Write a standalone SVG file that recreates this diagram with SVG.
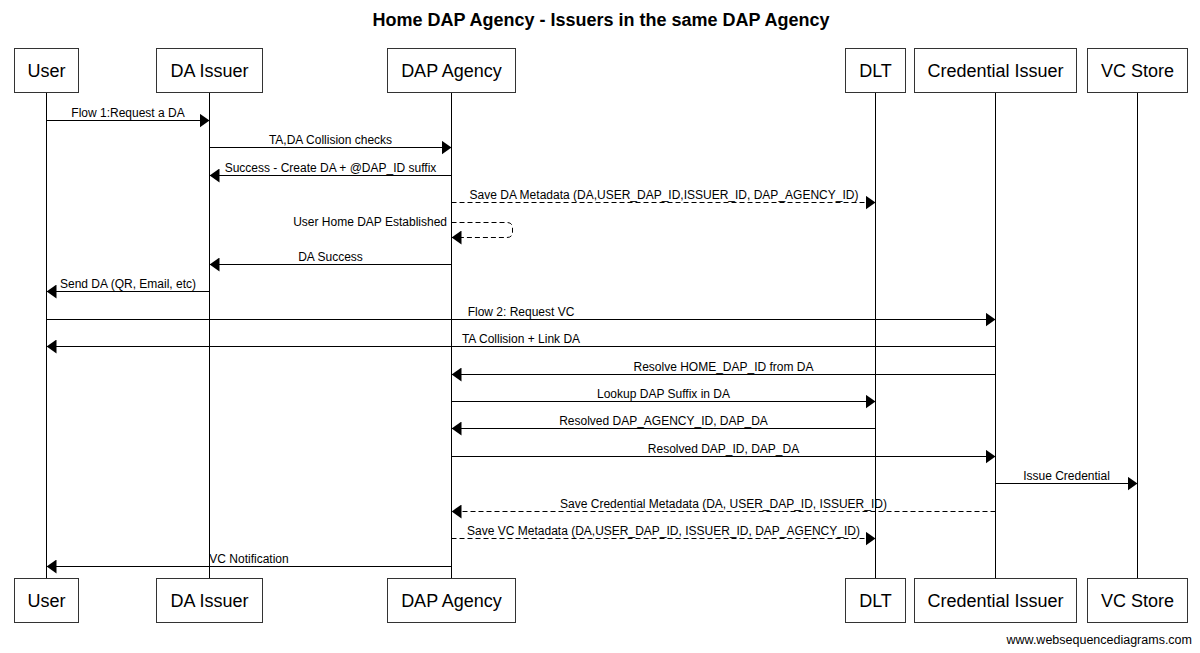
<svg xmlns="http://www.w3.org/2000/svg" width="1200" height="653" viewBox="0 0 1200 653">
<style>
.bg{fill:#fff}
.title{font-family:"Liberation Sans",Arial,sans-serif;font-size:18px;font-weight:bold;fill:#000;text-anchor:middle}
.box{fill:#fff;stroke:#333;stroke-width:1}
.plabel{font-family:"Liberation Sans",Arial,sans-serif;font-size:18px;fill:#000;text-anchor:middle}
.life{stroke:#000;stroke-width:1;fill:none}
.msg{stroke:#000;stroke-width:1;fill:none;marker-end:url(#ah)}
.dash{stroke-dasharray:5,3}
.mlabel{font-family:"Liberation Sans",Arial,sans-serif;font-size:12px;fill:#000;text-anchor:middle}
.foot{font-family:"Liberation Sans",Arial,sans-serif;font-size:12.5px;fill:#000;text-anchor:end}
</style>
<defs>
<marker id="ah" markerUnits="userSpaceOnUse" markerWidth="10" markerHeight="14" refX="10" refY="7" orient="auto" viewBox="0 0 10 14">
<path d="M0,0 L10,7 L0,14 z" fill="#000" stroke="none"/>
</marker>
</defs>
<rect class="bg" x="0" y="0" width="1200" height="653"/>
<text class="title" x="601" y="26">Home DAP Agency - Issuers in the same DAP Agency</text>

<g id="lifelines">
<line class="life" x1="46.5" y1="93" x2="46.5" y2="578"/>
<line class="life" x1="209.5" y1="93" x2="209.5" y2="578"/>
<line class="life" x1="451.5" y1="93" x2="451.5" y2="578"/>
<line class="life" x1="875.5" y1="93" x2="875.5" y2="578"/>
<line class="life" x1="995.5" y1="93" x2="995.5" y2="578"/>
<line class="life" x1="1137.5" y1="93" x2="1137.5" y2="578"/>
</g>

<g id="node-user">
<rect class="box" x="14.5" y="48.5" width="64" height="44"/>
<text class="plabel" x="46.5" y="77">User</text>
<rect class="box" x="14.5" y="578.5" width="64" height="44"/>
<text class="plabel" x="46.5" y="607">User</text>
</g>
<g id="node-da-issuer">
<rect class="box" x="156.5" y="48.5" width="106" height="44"/>
<text class="plabel" x="209.5" y="77">DA Issuer</text>
<rect class="box" x="156.5" y="578.5" width="106" height="44"/>
<text class="plabel" x="209.5" y="607">DA Issuer</text>
</g>
<g id="node-dap-agency">
<rect class="box" x="387.5" y="48.5" width="128" height="44"/>
<text class="plabel" x="451.5" y="77">DAP Agency</text>
<rect class="box" x="387.5" y="578.5" width="128" height="44"/>
<text class="plabel" x="451.5" y="607">DAP Agency</text>
</g>
<g id="node-dlt">
<rect class="box" x="845.5" y="48.5" width="60" height="44"/>
<text class="plabel" x="875.5" y="77">DLT</text>
<rect class="box" x="845.5" y="578.5" width="60" height="44"/>
<text class="plabel" x="875.5" y="607">DLT</text>
</g>
<g id="node-credential-issuer">
<rect class="box" x="914.5" y="48.5" width="162" height="44"/>
<text class="plabel" x="995.5" y="77">Credential Issuer</text>
<rect class="box" x="914.5" y="578.5" width="162" height="44"/>
<text class="plabel" x="995.5" y="607">Credential Issuer</text>
</g>
<g id="node-vc-store">
<rect class="box" x="1087.5" y="48.5" width="100" height="44"/>
<text class="plabel" x="1137.5" y="77">VC Store</text>
<rect class="box" x="1087.5" y="578.5" width="100" height="44"/>
<text class="plabel" x="1137.5" y="607">VC Store</text>
</g>

<g id="connectors">
<path class="msg" d="M46.5,120.5 H209.5"/>
<text class="mlabel" x="128" y="117">Flow 1:Request a DA</text>
<path class="msg" d="M209.5,147.5 H451.5"/>
<text class="mlabel" x="330.5" y="144">TA,DA Collision checks</text>
<path class="msg" d="M451.5,175.5 H209.5"/>
<text class="mlabel" x="330.5" y="172">Success - Create DA + @DAP_ID suffix</text>
<path class="msg dash" d="M451.5,202.5 H875.5"/>
<text class="mlabel" x="664" y="199">Save DA Metadata (DA,USER_DAP_ID,ISSUER_ID, DAP_AGENCY_ID)</text>
<path class="msg dash" d="M451.5,222.5 H507 Q512.5,222.5 512.5,228 V232 Q512.5,237.5 507,237.5 H451.5"/>
<text class="mlabel" x="447" y="226" style="text-anchor:end">User Home DAP Established</text>
<path class="msg" d="M451.5,264.5 H209.5"/>
<text class="mlabel" x="330.5" y="261">DA Success</text>
<path class="msg" d="M209.5,291.5 H46.5"/>
<text class="mlabel" x="128" y="288">Send DA (QR, Email, etc)</text>
<path class="msg" d="M46.5,319.5 H995.5"/>
<text class="mlabel" x="521" y="316">Flow 2: Request VC</text>
<path class="msg" d="M995.5,346.5 H46.5"/>
<text class="mlabel" x="521" y="343">TA Collision + Link DA</text>
<path class="msg" d="M995.5,374.5 H451.5"/>
<text class="mlabel" x="723.5" y="371">Resolve HOME_DAP_ID from DA</text>
<path class="msg" d="M451.5,401.5 H875.5"/>
<text class="mlabel" x="663.5" y="398">Lookup DAP Suffix in DA</text>
<path class="msg" d="M875.5,428.5 H451.5"/>
<text class="mlabel" x="663.5" y="425">Resolved DAP_AGENCY_ID, DAP_DA</text>
<path class="msg" d="M451.5,456.5 H995.5"/>
<text class="mlabel" x="723.5" y="453">Resolved DAP_ID, DAP_DA</text>
<path class="msg" d="M995.5,483.5 H1137.5"/>
<text class="mlabel" x="1066.5" y="480">Issue Credential</text>
<path class="msg dash" d="M995.5,511.5 H451.5"/>
<text class="mlabel" x="723.5" y="508">Save Credential Metadata (DA, USER_DAP_ID, ISSUER_ID)</text>
<path class="msg dash" d="M451.5,538.5 H875.5"/>
<text class="mlabel" x="663.5" y="535">Save VC Metadata (DA,USER_DAP_ID, ISSUER_ID, DAP_AGENCY_ID)</text>
<path class="msg" d="M451.5,566.5 H46.5"/>
<text class="mlabel" x="249" y="563">VC Notification</text>
</g>

<text class="foot" x="1192" y="644">www.websequencediagrams.com</text>
</svg>
